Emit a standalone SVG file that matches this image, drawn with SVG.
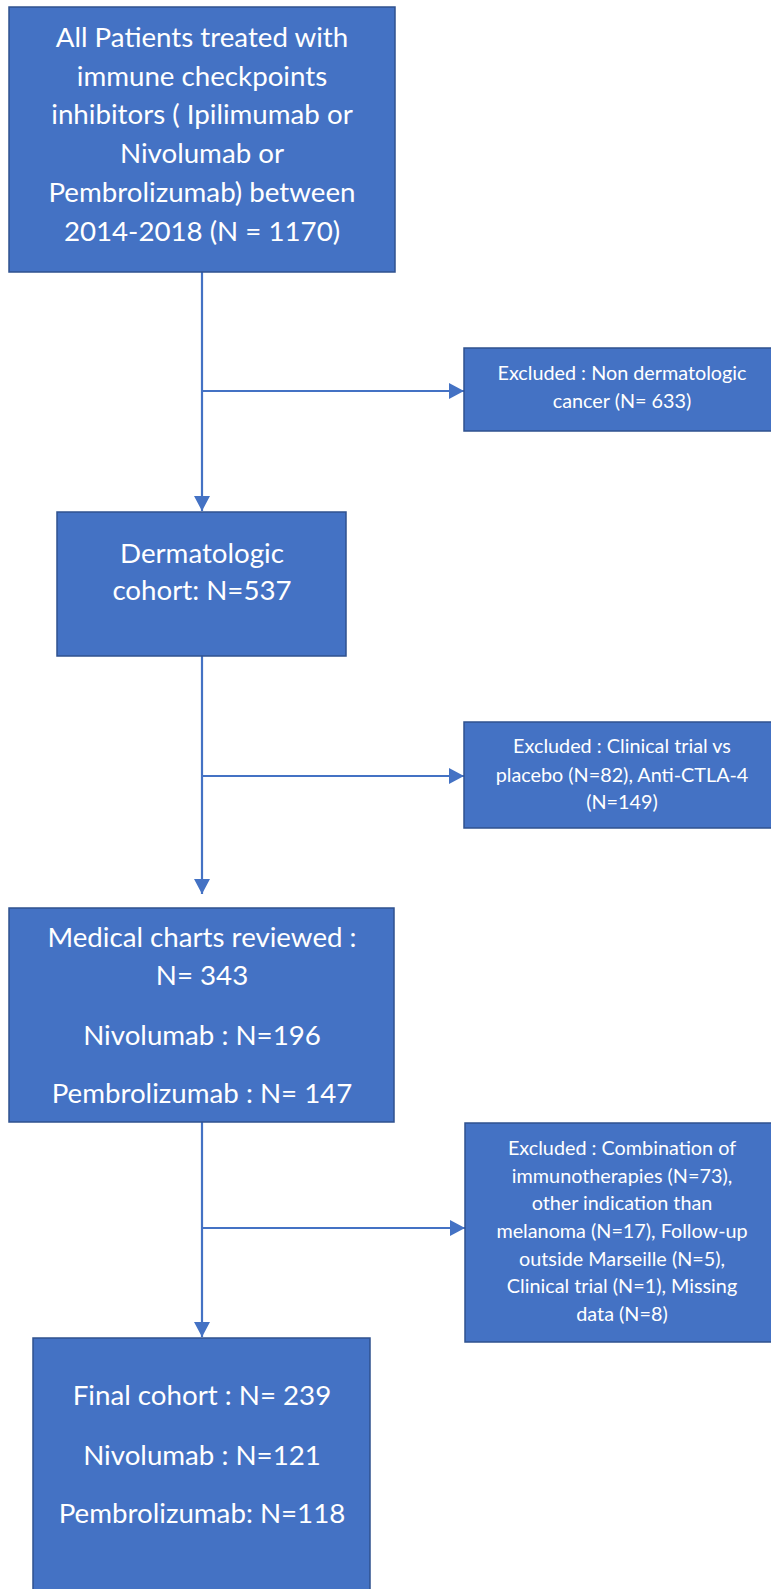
<svg xmlns="http://www.w3.org/2000/svg" width="771" height="1589" viewBox="0 0 771 1589">
<defs>
<style>
.box{fill:#4472C4;stroke:#2F528F;stroke-width:1.5}
.t{fill:#ffffff;font-family:Lato,"Open Sans","Liberation Sans",sans-serif;text-anchor:middle}
.big{font-size:27.7px}
.small{font-size:19.8px}
.conn{stroke:#4472C4;stroke-width:2.2;fill:none}
</style>
<marker id="arr" markerUnits="userSpaceOnUse" markerWidth="16" markerHeight="16" refX="15" refY="8" orient="auto">
<path d="M0,0 L15,8 L0,16 Z" fill="#4472C4"/>
</marker>
</defs>
<rect width="771" height="1589" fill="#ffffff"/>
<g id="connectors">
<line class="conn" x1="202" y1="272" x2="202" y2="511" marker-end="url(#arr)"/>
<line class="conn" x1="202" y1="391" x2="464" y2="391" marker-end="url(#arr)"/>
<line class="conn" x1="202" y1="656" x2="202" y2="894" marker-end="url(#arr)"/>
<line class="conn" x1="202" y1="776" x2="464" y2="776" marker-end="url(#arr)"/>
<line class="conn" x1="202" y1="1122" x2="202" y2="1337" marker-end="url(#arr)"/>
<line class="conn" x1="202" y1="1228" x2="465" y2="1228" marker-end="url(#arr)"/>
</g>
<g id="node-all">
<rect class="box" x="9" y="7" width="386" height="265"/>
<text class="t big" x="202" y="47">All Patients treated with</text>
<text class="t big" x="202" y="86">immune checkpoints</text>
<text class="t big" x="202" y="124">inhibitors ( Ipilimumab or</text>
<text class="t big" x="202" y="163">Nivolumab or</text>
<text class="t big" x="202" y="202">Pembrolizumab) between</text>
<text class="t big" x="202" y="241">2014-2018 (N = 1170)</text>
</g>
<g id="node-excl1">
<rect class="box" x="464" y="348" width="320" height="83"/>
<text class="t small" x="622" y="380">Excluded : Non dermatologic</text>
<text class="t small" x="622" y="408">cancer (N= 633)</text>
</g>
<g id="node-derm">
<rect class="box" x="57" y="512" width="289" height="144"/>
<text class="t big" x="202" y="563">Dermatologic</text>
<text class="t big" x="202" y="600">cohort: N=537</text>
</g>
<g id="node-excl2">
<rect class="box" x="464" y="722" width="320" height="106"/>
<text class="t small" x="622" y="753">Excluded : Clinical trial vs</text>
<text class="t small" x="622" y="782">placebo (N=82), Anti-CTLA-4</text>
<text class="t small" x="622" y="809">(N=149)</text>
</g>
<g id="node-charts">
<rect class="box" x="9" y="908" width="385" height="214"/>
<text class="t big" x="202" y="947">Medical charts reviewed :</text>
<text class="t big" x="202" y="985">N= 343</text>
<text class="t big" x="202" y="1045">Nivolumab : N=196</text>
<text class="t big" x="202" y="1103">Pembrolizumab : N= 147</text>
</g>
<g id="node-excl3">
<rect class="box" x="465" y="1123" width="320" height="219"/>
<text class="t small" x="622" y="1155">Excluded : Combination of</text>
<text class="t small" x="622" y="1183">immunotherapies (N=73),</text>
<text class="t small" x="622" y="1210">other indication than</text>
<text class="t small" x="622" y="1238">melanoma (N=17), Follow-up</text>
<text class="t small" x="622" y="1266">outside Marseille (N=5),</text>
<text class="t small" x="622" y="1293">Clinical trial (N=1), Missing</text>
<text class="t small" x="622" y="1321">data (N=8)</text>
</g>
<g id="node-final">
<rect class="box" x="33" y="1338" width="337" height="262"/>
<text class="t big" x="202" y="1405">Final cohort : N= 239</text>
<text class="t big" x="202" y="1465">Nivolumab : N=121</text>
<text class="t big" x="202" y="1523">Pembrolizumab: N=118</text>
</g>
</svg>
